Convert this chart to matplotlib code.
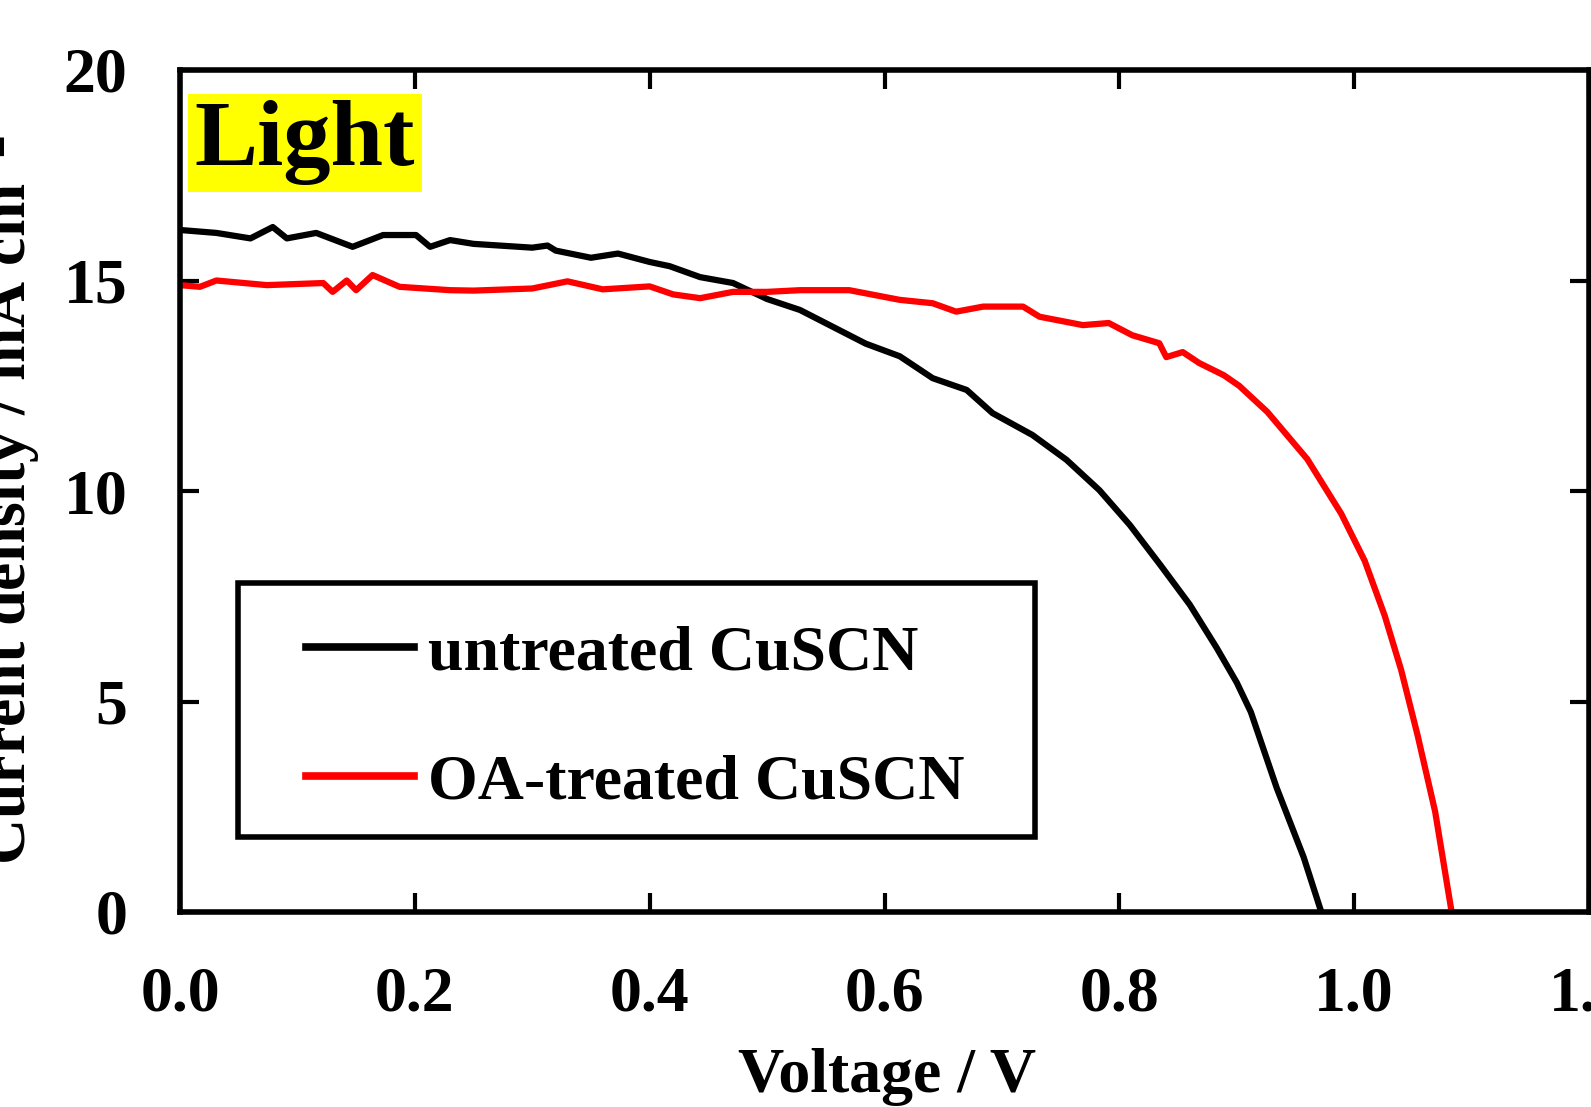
import matplotlib
matplotlib.use('Agg')
import matplotlib.pyplot as plt
from matplotlib.patches import Rectangle

plt.rcParams['font.family'] = ['Liberation Serif', 'DejaVu Serif']
plt.rcParams['font.weight'] = 'bold'
plt.rcParams['axes.labelweight'] = 'bold'
plt.rcParams['mathtext.default'] = 'regular'

# J-V curves under light
untreated_v = [0.0, 0.031, 0.060, 0.079, 0.091, 0.116, 0.147, 0.173, 0.201, 0.213,
               0.230, 0.25, 0.30, 0.313, 0.32, 0.35, 0.373, 0.40, 0.417, 0.443,
               0.471, 0.50, 0.528, 0.556, 0.584, 0.613, 0.641, 0.670, 0.692, 0.726,
               0.755, 0.783, 0.809, 0.835, 0.860, 0.883, 0.900, 0.912, 0.934, 0.957,
               0.972]
untreated_j = [16.2, 16.13, 16.0, 16.27, 16.0, 16.13, 15.8, 16.08, 16.08, 15.8,
               15.96, 15.87, 15.78, 15.83, 15.71, 15.54, 15.64, 15.44, 15.34, 15.08,
               14.94, 14.56, 14.30, 13.9, 13.5, 13.2, 12.68, 12.4, 11.85, 11.33,
               10.74, 10.02, 9.19, 8.24, 7.30, 6.27, 5.45, 4.75, 2.95, 1.3,
               0.0]

treated_v = [0.0, 0.017, 0.031, 0.074, 0.122, 0.130, 0.142, 0.150, 0.164, 0.187,
             0.230, 0.25, 0.30, 0.33, 0.36, 0.40, 0.42, 0.443, 0.471, 0.50,
             0.528, 0.570, 0.613, 0.641, 0.661, 0.684, 0.718, 0.732, 0.769, 0.791,
             0.811, 0.834, 0.840, 0.854, 0.868, 0.889, 0.902, 0.926, 0.960, 0.989,
             1.009, 1.026, 1.040, 1.054, 1.069, 1.083]
treated_j = [14.89, 14.85, 15.0, 14.89, 14.94, 14.73, 15.0, 14.77, 15.13, 14.85,
             14.77, 14.76, 14.81, 14.98, 14.79, 14.86, 14.67, 14.58, 14.73, 14.73,
             14.77, 14.77, 14.54, 14.46, 14.26, 14.38, 14.38, 14.14, 13.94, 13.99,
             13.70, 13.51, 13.18, 13.30, 13.04, 12.75, 12.5, 11.88, 10.76, 9.46,
             8.34, 7.04, 5.75, 4.2, 2.38, 0.0]

labels = ['untreated CuSCN', 'OA-treated CuSCN']
x_ticks = [0.0, 0.2, 0.4, 0.6, 0.8, 1.0, 1.2]
y_ticks = [0, 5, 10, 15, 20]

fig = plt.figure(figsize=(15.91, 11.07), dpi=100)
ax = fig.add_axes([180 / 1591, (1107 - 912) / 1107, 1409 / 1591, 842 / 1107])

ax.plot(untreated_v, untreated_j, color='black', lw=4.5, label=labels[0])
ax.plot(treated_v, treated_j, color='red', lw=4.5, label=labels[1])

ax.set_xlim(0, 1.2)
ax.set_ylim(0, 20)
ax.set_xticks(x_ticks)
ax.set_xticklabels(['%.1f' % t for t in x_ticks])
ax.set_yticks(y_ticks)
ax.tick_params(direction='in', length=14, width=3, top=True, right=True,
               labelsize=46)
ax.tick_params(axis='x', pad=39)
ax.tick_params(axis='y', pad=38)
for s in ax.spines.values():
    s.set_linewidth(4)

ax.set_xlabel('Voltage / V', fontsize=46, fontweight='bold')
ax.xaxis.set_label_coords(0.502, -0.1615)
ax.set_ylabel('Current density / mA cm$^{-2}$', fontsize=46, fontweight='bold')
ax.yaxis.set_label_coords(-0.098, 0.489)

ax.text(0.0106, 0.887, 'Light', fontsize=68, ha='left', va='baseline',
        transform=ax.transAxes,
        bbox=dict(facecolor='yellow', edgecolor='none', pad=5))

leg = ax.legend(loc='upper left', bbox_to_anchor=(0.0894, 0.341), frameon=False,
                fontsize=46, handlelength=1.69, handletextpad=0.22,
                labelspacing=1.1, borderpad=0, borderaxespad=0)
for line in leg.get_lines():
    line.set_linewidth(5.5)
# legend frame (wider side padding than matplotlib gives)
ax.add_patch(Rectangle((0.0412, 0.0891), 0.5656, 0.3016, transform=ax.transAxes,
                       fill=False, lw=4, edgecolor='black', zorder=5))

fig.savefig('out.png', dpi=100)
